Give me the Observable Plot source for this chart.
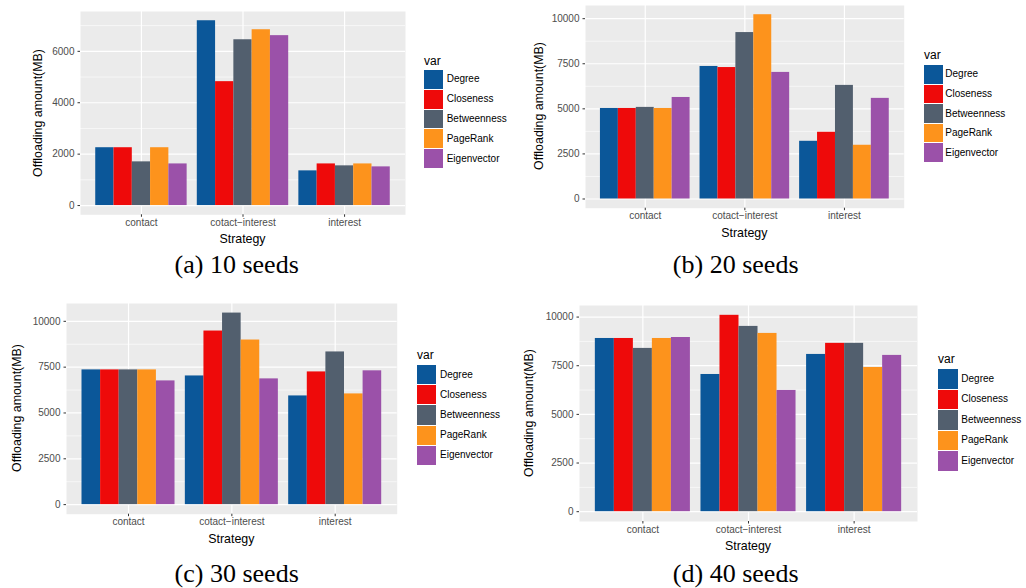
<!DOCTYPE html>
<html><head><meta charset="utf-8">
<script src="https://cdn.jsdelivr.net/npm/d3@7"></script>
<script src="https://cdn.jsdelivr.net/npm/@observablehq/plot@0.6"></script>
<style>
body{margin:0;background:#fff}
#root{position:relative;width:1026px;height:588px;overflow:hidden;font-family:"Liberation Sans",Arial,sans-serif}
.abs{position:absolute;white-space:nowrap;line-height:1}
</style></head><body><div id="root"></div>
<script>
// ---- data ----
const strategies = ["contact", "cotact\u2212interest", "interest"];
const vars = ["Degree", "Closeness", "Betweenness", "PageRank", "Eigenvector"];
const colors = ["#0b5799", "#ee0a0a", "#525f6e", "#fd931c", "#9b51a9"];
// rows: vars, columns: strategies
const seeds10 = [
  [2250, 7190, 1350],
  [2250, 4820, 1620],
  [1700, 6450, 1545],
  [2250, 6840, 1620],
  [1620, 6610, 1505]
];
const seeds20 = [
  [5020, 7350, 3200],
  [5020, 7290, 3700],
  [5080, 9230, 6300],
  [5020, 10220, 2980],
  [5630, 7020, 5580]
];
const seeds30 = [
  [7350, 7020, 5930],
  [7350, 9470, 7240],
  [7350, 10450, 8330],
  [7350, 8980, 6040],
  [6750, 6860, 7300]
];
const seeds40 = [
  [8900, 7050, 8080],
  [8900, 10090, 8650],
  [8390, 9520, 8650],
  [8900, 9160, 7410],
  [8950, 6230, 8030]
];
const ticks10 = [0, 2000, 4000, 6000];
const minor10 = [1000, 3000, 5000, 7000];
const ticksK = [0, 2500, 5000, 7500, 10000];
const minorK = [1250, 3750, 6250, 8750];
const captions = ["(a) 10 seeds", "(b) 20 seeds", "(c) 30 seeds", "(d) 40 seeds"];
const xTitle = "Strategy";
const yTitle = "Offloading amount(MB)";
const legendTitle = "var";

// ---- layout ----
const panels = [
  {data: seeds10, ticks: ticks10, minor: minor10, caption: captions[0], ox: 0, oy: 0,
   frame: [80, 11, 405, 214.3], ytX: 38.3, capX: 236.7, capY: 265,
   lg: {x: 424, varY: 61, top: 70, pitch: 19.8, w: 19, labelX: 446.7}},
  {data: seeds20, ticks: ticksK, minor: minorK, caption: captions[1], ox: 513, oy: 0,
   frame: [585, 5, 903.7, 207.7], ytX: 539, capX: 735.7, capY: 265,
   lg: {x: 924, varY: 55, top: 65, pitch: 19.6, w: 19, labelX: 945.3}},
  {data: seeds30, ticks: ticksK, minor: minorK, caption: captions[2], ox: 0, oy: 294,
   frame: [66, 303, 396.7, 513.7], ytX: 16.7, capX: 236.7, capY: 574,
   lg: {x: 417, varY: 355, top: 365, pitch: 20.2, w: 19, labelX: 440}},
  {data: seeds40, ticks: ticksK, minor: minorK, caption: captions[3], ox: 513, oy: 294,
   frame: [579, 305, 917, 521], ytX: 529, capX: 735.7, capY: 574,
   lg: {x: 938, varY: 359, top: 369, pitch: 20.5, w: 20, labelX: 961.3}}
];

const root = document.getElementById("root");
function addText(txt, x, y, style, transform) {
  const d = document.createElement("div");
  d.className = "abs";
  d.textContent = txt;
  d.style.left = x + "px";
  d.style.top = y + "px";
  d.style.transform = transform || "translate(-50%,-50%)";
  Object.assign(d.style, style);
  root.appendChild(d);
  return d;
}
function addBox(x, y, w, h, fill) {
  const d = document.createElement("div");
  d.className = "abs";
  Object.assign(d.style, {left: x + "px", top: y + "px", width: w + "px", height: h + "px", background: fill});
  root.appendChild(d);
}

const W = 513, H = 294;
for (const p of panels) {
  const rows = strategies.flatMap((s, i) => vars.map((v, j) => ({s, v, i, j, value: p.data[j][i]})));
  const ymax = d3.max(rows, d => d.value);
  const [fx0, fy0, fx1, fy1] = p.frame;
  const chart = Plot.plot({
    width: W, height: H,
    marginLeft: fx0 - p.ox, marginTop: fy0 - p.oy,
    marginRight: p.ox + W - fx1, marginBottom: p.oy + H - fy1,
    style: {fontFamily: '"Liberation Sans", Arial, sans-serif', fontSize: "10px", background: "transparent", overflow: "visible"},
    x: {type: "linear", domain: [0.4, 3.6]},
    y: {domain: [-0.05 * ymax, 1.05 * ymax]},
    color: {domain: vars, range: colors},
    marks: [
      Plot.frame({fill: "#ebebeb", stroke: "none"}),
      Plot.gridY(p.minor, {stroke: "white", strokeOpacity: 1, strokeWidth: 0.6}),
      Plot.gridY(p.ticks, {stroke: "white", strokeOpacity: 1, strokeWidth: 1.2}),
      Plot.gridX([1, 2, 3], {stroke: "white", strokeOpacity: 1, strokeWidth: 1.2}),
      Plot.rectY(rows, {
        x1: d => d.i + 1 - 0.45 + d.j * 0.18,
        x2: d => d.i + 1 - 0.45 + (d.j + 1) * 0.18,
        y1: 0, y2: "value", fill: "v"
      }),
      Plot.axisX([1, 2, 3], {tickFormat: t => strategies[t - 1], tickSize: 2.5, tickPadding: 1.5,
        fill: "#4d4d4d", stroke: "#333", label: null, fontSize: 10}),
      Plot.axisY(p.ticks, {tickSize: 2.5, tickPadding: 3.5, fill: "#4d4d4d", stroke: "#333",
        label: null, fontSize: 10, tickFormat: d3.format("d")})
    ]
  });
  chart.style.position = "absolute";
  chart.style.left = p.ox + "px";
  chart.style.top = p.oy + "px";
  root.appendChild(chart);

  // axis titles
  addText(xTitle, (fx0 + fx1) / 2, fy1 + 25, {fontSize: "12.4px", color: "#000"});
  addText(yTitle, p.ytX, (fy0 + fy1) / 2, {fontSize: "12.4px", color: "#000"}, "translate(-50%,-50%) rotate(-90deg)");
  // legend
  const lg = p.lg;
  addText(legendTitle, lg.x, lg.varY, {fontSize: "12px", color: "#000"}, "translate(0,-50%)");
  vars.forEach((v, k) => {
    addBox(lg.x, lg.top + k * lg.pitch, lg.w, lg.pitch - 1, colors[k]);
    addText(v, lg.labelX, lg.top + k * lg.pitch + (lg.pitch - 1) / 2, {fontSize: "10px", color: "#000"}, "translate(0,-50%)");
  });
  // caption
  addText(p.caption, p.capX, p.capY, {fontSize: "26px", fontFamily: '"Liberation Serif", "Times New Roman", serif', color: "#000"});
}
</script>
</body></html>
